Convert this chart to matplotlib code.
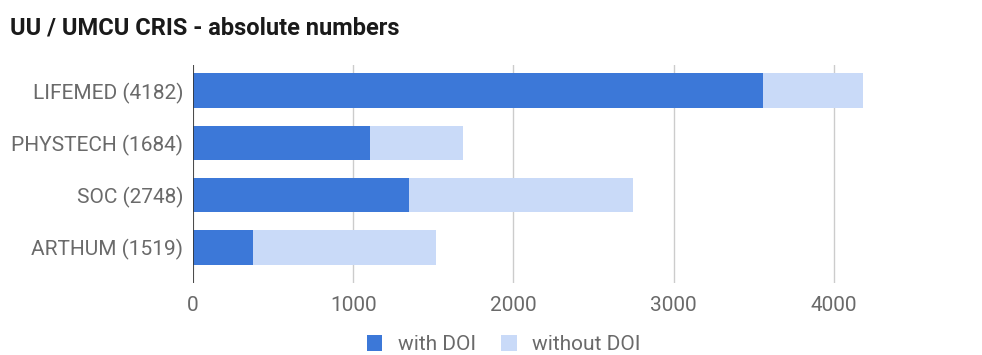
import matplotlib
matplotlib.use("Agg")
import matplotlib.pyplot as plt
from matplotlib.patches import Patch

categories = ["LIFEMED (4182)", "PHYSTECH (1684)", "SOC (2748)", "ARTHUM (1519)"]
totals = [4182, 1684, 2748, 1519]
with_doi = [3556, 1104, 1349, 372]
without_doi = [t - w for t, w in zip(totals, with_doi)]
series_names = ["with DOI", "without DOI"]
xticks = [0, 1000, 2000, 3000, 4000]

plt.rcParams['font.family'] = ['Roboto', 'DejaVu Sans']

dark = "#3c78d8"
light = "#c9daf8"
textc = "#6a6a6a"

fig = plt.figure(figsize=(9.82, 3.55), dpi=100)
ax = fig.add_axes([0.1965, 0.2028, 0.718, 0.614])

y = list(range(len(categories)))
ax.barh(y, with_doi, height=0.66, color=dark, zorder=3)
ax.barh(y, without_doi, left=with_doi, height=0.66, color=light, zorder=3)

ax.set_ylim(3.68, -0.49)
ax.set_xlim(0, 4400)
ax.set_xticks(xticks)
ax.set_xticklabels([str(v) for v in xticks])
ax.set_yticks(y)
ax.set_yticklabels(categories)
ax.tick_params(axis='both', length=0, labelsize=15, colors=textc)
ax.tick_params(axis='x', pad=9)
ax.tick_params(axis='y', pad=7)
for s in ax.spines.values():
    s.set_visible(False)
ax.grid(axis='x', color="#cccccc", linewidth=1, zorder=0)
ax.axvline(0, color="#333333", linewidth=1.2, zorder=4)

fig.text(0.010, 0.92, "UU / UMCU CRIS - absolute numbers", fontsize=17, fontweight='bold',
         color="#1a1a1a", va='center', ha='left')

handles = [Patch(facecolor=dark, edgecolor='none'), Patch(facecolor=light, edgecolor='none')]
leg = fig.legend(handles, series_names, loc='center', bbox_to_anchor=(0.513, 0.029), ncol=2,
                 frameon=False, fontsize=15, handlelength=0.75, handleheight=0.75,
                 handletextpad=0.75, columnspacing=1.2, labelcolor=textc)

fig.savefig("out.png", dpi=100)
